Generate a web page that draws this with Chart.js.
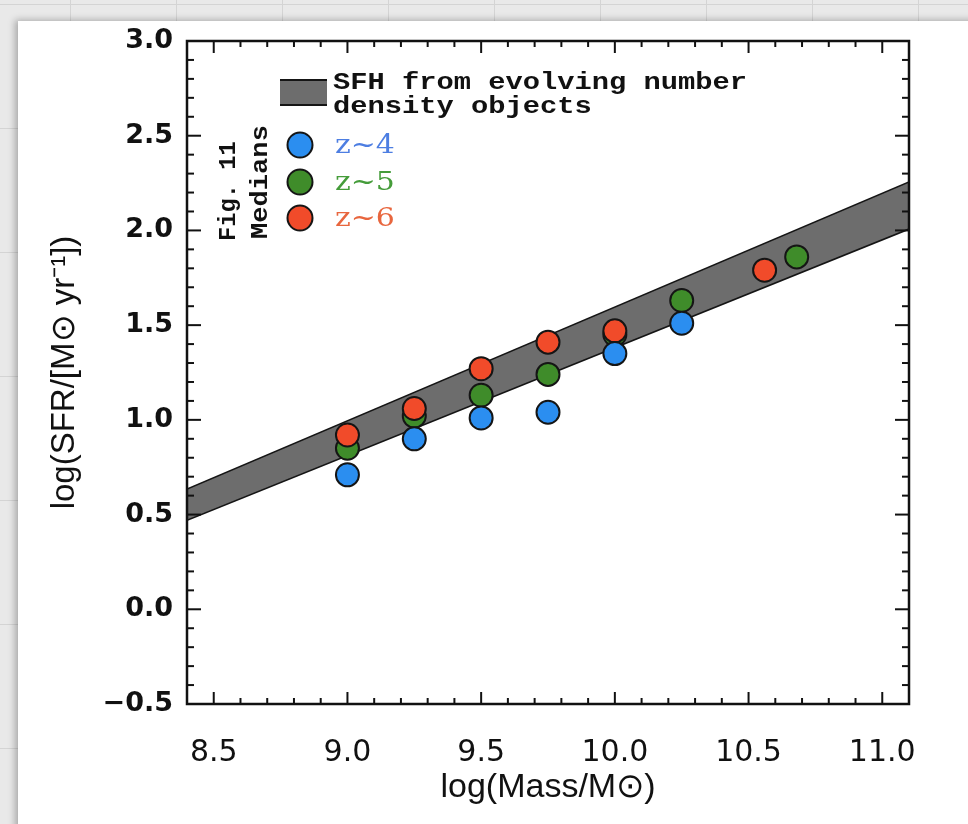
<!DOCTYPE html>
<html>
<head>
<meta charset="utf-8">
<script src="https://cdn.jsdelivr.net/npm/chart.js@4/dist/chart.umd.min.js"></script>
<style>
html,body{margin:0;padding:0;width:968px;height:824px;overflow:hidden;background:#e9e9e9;}
#bg{position:absolute;left:0;top:0;width:968px;height:824px;
  background-image:linear-gradient(#d4d4d4 1px, transparent 1px),linear-gradient(90deg,#d4d4d4 1px, transparent 1px);
  background-size:106px 124px;background-position:70px 4px;}
#card{position:absolute;left:18px;top:21px;width:980px;height:820px;background:#fff;
  box-shadow:-3px -1px 7px rgba(0,0,0,0.28);}
#wrap{position:absolute;left:0;top:0;width:968px;height:824px;}
</style>
</head>
<body>
<div id="bg"></div>
<div id="card"></div>
<div id="wrap"><canvas id="c" width="968" height="824"></canvas></div>
<script>
// ---- data ----
const xTickValues = [8.5, 9.0, 9.5, 10.0, 10.5, 11.0];
const xTickLabels = ['8.5', '9.0', '9.5', '10.0', '10.5', '11.0'];
const yTickValues = [-0.5, 0.0, 0.5, 1.0, 1.5, 2.0, 2.5, 3.0];
const yTickLabels = ['\u22120.5', '0.0', '0.5', '1.0', '1.5', '2.0', '2.5', '3.0'];

const massZ4 = [9.0, 9.25, 9.5, 9.75, 10.0, 10.25];
const sfrZ4  = [0.71, 0.90, 1.01, 1.04, 1.35, 1.51];
const massZ5 = [9.0, 9.25, 9.5, 9.75, 10.0, 10.25, 10.68];
const sfrZ5  = [0.85, 1.02, 1.13, 1.24, 1.45, 1.63, 1.86];
const massZ6 = [9.0, 9.25, 9.5, 9.75, 10.0, 10.56];
const sfrZ6  = [0.92, 1.06, 1.27, 1.41, 1.47, 1.79];

const bandMass  = [8.4, 11.1];
const bandUpper = [0.635, 2.256];
const bandLower = [0.47, 2.007];

const bandLabelLines = ['SFH from evolving number', 'density objects'];
const seriesLabels = ['z~4', 'z~5', 'z~6'];
const sideNote = ['Fig. 11', 'Medians'];

const toXY = (xs, ys) => xs.map((v, i) => ({x: v, y: ys[i]}));

const COLORS = {
  z4: '#2b8ef0', z5: '#3f8c2a', z6: '#f14b2a',
  t4: '#4d7ee2', t5: '#459c3a', t6: '#e8663e',
  band: '#6d6d6d', edge: '#151515'
};

function drawText(ctx, txt, x, y, font, color, sx, align, rot) {
  ctx.save();
  ctx.font = font; ctx.fillStyle = color;
  ctx.textBaseline = 'middle'; ctx.textAlign = align || 'left';
  ctx.translate(x, y);
  if (rot) ctx.rotate(rot);
  ctx.scale(sx || 1, 1);
  ctx.fillText(txt, 0, 0);
  ctx.restore();
}

const frameTicks = {
  id: 'frameTicks',
  afterDatasetsDraw(chart) {
    const {ctx, chartArea: a, scales: {x, y}} = chart;
    ctx.save();
    ctx.strokeStyle = '#111'; ctx.lineWidth = 2; ctx.lineCap = 'butt';
    const seg = (x1, y1, x2, y2) => { ctx.beginPath(); ctx.moveTo(x1, y1); ctx.lineTo(x2, y2); ctx.stroke(); };
    for (let i = Math.round(x.min * 10) + 1; i < Math.round(x.max * 10); i++) {
      const px = x.getPixelForValue(i / 10);
      const L = (i % 5 === 0) ? 12 : 6;
      seg(px, a.bottom, px, a.bottom - L);
      seg(px, a.top, px, a.top + L);
    }
    for (let i = Math.round(y.min * 10) + 1; i < Math.round(y.max * 10); i++) {
      const py = y.getPixelForValue(i / 10);
      const L = (((i % 5) + 5) % 5 === 0) ? 14 : 7;
      seg(a.left, py, a.left + L, py);
      seg(a.right, py, a.right - L, py);
    }
    ctx.lineWidth = 2.5;
    ctx.strokeRect(a.left, a.top, a.width, a.height);
    ctx.restore();
  }
};

const legendPlugin = {
  id: 'customLegend',
  afterDraw(chart) {
    const ctx = chart.ctx;
    ctx.save();
    ctx.fillStyle = COLORS.band;
    ctx.fillRect(280, 80, 47, 25);
    ctx.strokeStyle = COLORS.edge; ctx.lineWidth = 2;
    ctx.beginPath(); ctx.moveTo(280, 80); ctx.lineTo(327, 80); ctx.stroke();
    ctx.beginPath(); ctx.moveTo(280, 105); ctx.lineTo(327, 105); ctx.stroke();
    const monoFont = 'bold 23px "Liberation Mono"';
    drawText(ctx, bandLabelLines[0], 333, 83, monoFont, '#111', 1.25);
    drawText(ctx, bandLabelLines[1], 333, 107, monoFont, '#111', 1.25);
    const fills = [COLORS.z4, COLORS.z5, COLORS.z6];
    const tcols = [COLORS.t4, COLORS.t5, COLORS.t6];
    const ys = [145, 182, 218];
    for (let i = 0; i < 3; i++) {
      ctx.beginPath(); ctx.arc(300, ys[i], 12.5, 0, Math.PI * 2);
      ctx.fillStyle = fills[i]; ctx.fill();
      ctx.lineWidth = 2; ctx.strokeStyle = COLORS.edge; ctx.stroke();
      drawText(ctx, seriesLabels[i], 335, ys[i] + 1, '26px "DejaVu Serif"', tcols[i], 1.15);
    }
    drawText(ctx, sideNote[0], 229, 241, 'bold 24px "Liberation Mono"', '#111', 0.99, 'left', -Math.PI / 2);
    drawText(ctx, sideNote[1], 261, 239, 'bold 24px "Liberation Mono"', '#111', 1.13, 'left', -Math.PI / 2);
    ctx.restore();
  }
};

const pointDs = (label, xs, ys, color, order) => ({
  type: 'scatter', label, data: toXY(xs, ys), order,
  pointRadius: 11.5, pointHoverRadius: 11.5,
  pointBackgroundColor: color, backgroundColor: color,
  pointBorderColor: COLORS.edge, borderColor: COLORS.edge,
  pointBorderWidth: 2, borderWidth: 2
});

new Chart(document.getElementById('c'), {
  type: 'scatter',
  data: {
    datasets: [
      { type: 'line', label: bandLabelLines.join(' '), data: toXY(bandMass, bandUpper),
        borderColor: COLORS.edge, borderWidth: 1.6, pointRadius: 0, fill: '+1',
        backgroundColor: COLORS.band, order: 20 },
      { type: 'line', label: 'band lower', data: toXY(bandMass, bandLower),
        borderColor: COLORS.edge, borderWidth: 1.6, pointRadius: 0, fill: false, order: 19 },
      pointDs(seriesLabels[1], massZ5, sfrZ5, COLORS.z5, 3),
      pointDs(seriesLabels[2], massZ6, sfrZ6, COLORS.z6, 2),
      pointDs(seriesLabels[0], massZ4, sfrZ4, COLORS.z4, 1)
    ]
  },
  options: {
    responsive: false, animation: false, events: [],
    layout: { padding: { left: 0, top: 41, right: 59, bottom: 0 } },
    plugins: { legend: { display: false }, tooltip: { enabled: false } },
    scales: {
      x: {
        type: 'linear', min: 8.4, max: 11.1,
        grid: { display: false }, border: { display: false },
        afterBuildTicks: s => { s.ticks = xTickValues.map(v => ({ value: v })); },
        afterFit: s => { s.height = 120; },
        ticks: {
          padding: 23, color: '#111', maxRotation: 0, autoSkip: false,
          font: { family: '"DejaVu Sans"', size: 30 },
          callback: v => xTickLabels[xTickValues.findIndex(t => Math.abs(t - v) < 1e-9)]
        },
        title: { display: true, text: 'log(Mass/M\u2299)', color: '#111',
          font: { family: '"Liberation Sans"', size: 34 }, padding: { top: 0, bottom: 16 } }
      },
      y: {
        type: 'linear', min: -0.5, max: 3.0,
        grid: { display: false }, border: { display: false },
        afterBuildTicks: s => { s.ticks = yTickValues.map(v => ({ value: v })); },
        afterFit: s => { s.width = 187; },
        ticks: {
          padding: 6, color: '#111', autoSkip: false,
          font: { family: '"DejaVu Sans"', size: 27, weight: 'bold' },
          callback: v => yTickLabels[yTickValues.findIndex(t => Math.abs(t - v) < 1e-9)]
        },
        title: { display: true, text: 'log(SFR/[M\u2299 yr\u207B\u00B9])', color: '#111',
          font: { family: '"Liberation Sans"', size: 33 }, padding: { top: 45, bottom: 0 } }
      }
    }
  },
  plugins: [frameTicks, legendPlugin]
});
</script>
</body>
</html>
